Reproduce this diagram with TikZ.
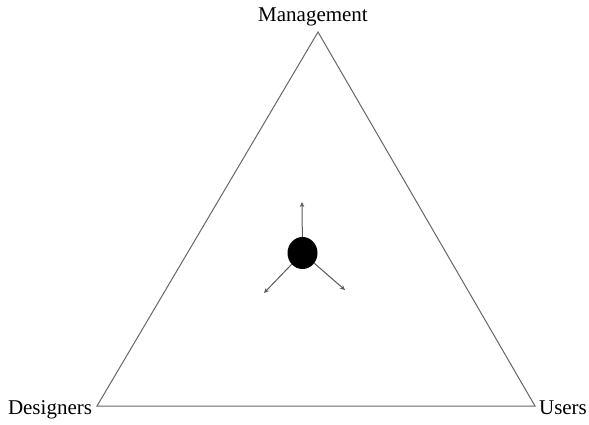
\documentclass[tikz,border=0pt]{standalone}
\usepackage{fontspec}
\setmainfont{Liberation Serif}
\usetikzlibrary{arrows.meta,shapes.geometric}
\begin{document}
\begin{tikzpicture}[x=1pt,y=-1pt,
  edge/.style={draw=black!60, line width=1pt},
  pull/.style={draw=black!65, line width=1pt, -{Stealth[length=5pt,width=4.5pt]}},
  lbl/.style={font=\fontsize{21}{24}\selectfont, inner sep=0pt, anchor=base}]
\useasboundingbox (0,0) rectangle (589,424);
% corners of the triangle
\coordinate (top) at (318,32);
\coordinate (left) at (97,406);
\coordinate (right) at (535,406);
\draw[edge] (top) -- (left) -- (right) -- cycle;
% vertex labels
\node[lbl] (mgmt) at (313,21) {Management};
\node[lbl] (des) at (50,414) {Designers};
\node[lbl] (usr) at (563,414) {Users};
% central point with three pulls
\node[fill=black, ellipse, minimum width=30pt, minimum height=32pt, inner sep=0pt] (hub) at (302.5,253) {};
\coordinate (up) at (302,202);
\coordinate (ll) at (264,293);
\coordinate (lr) at (345,290);
\draw[pull] (hub) -- (up);
\draw[pull] (hub) -- (ll);
\draw[pull] (hub) -- (lr);
\end{tikzpicture}
\end{document}
